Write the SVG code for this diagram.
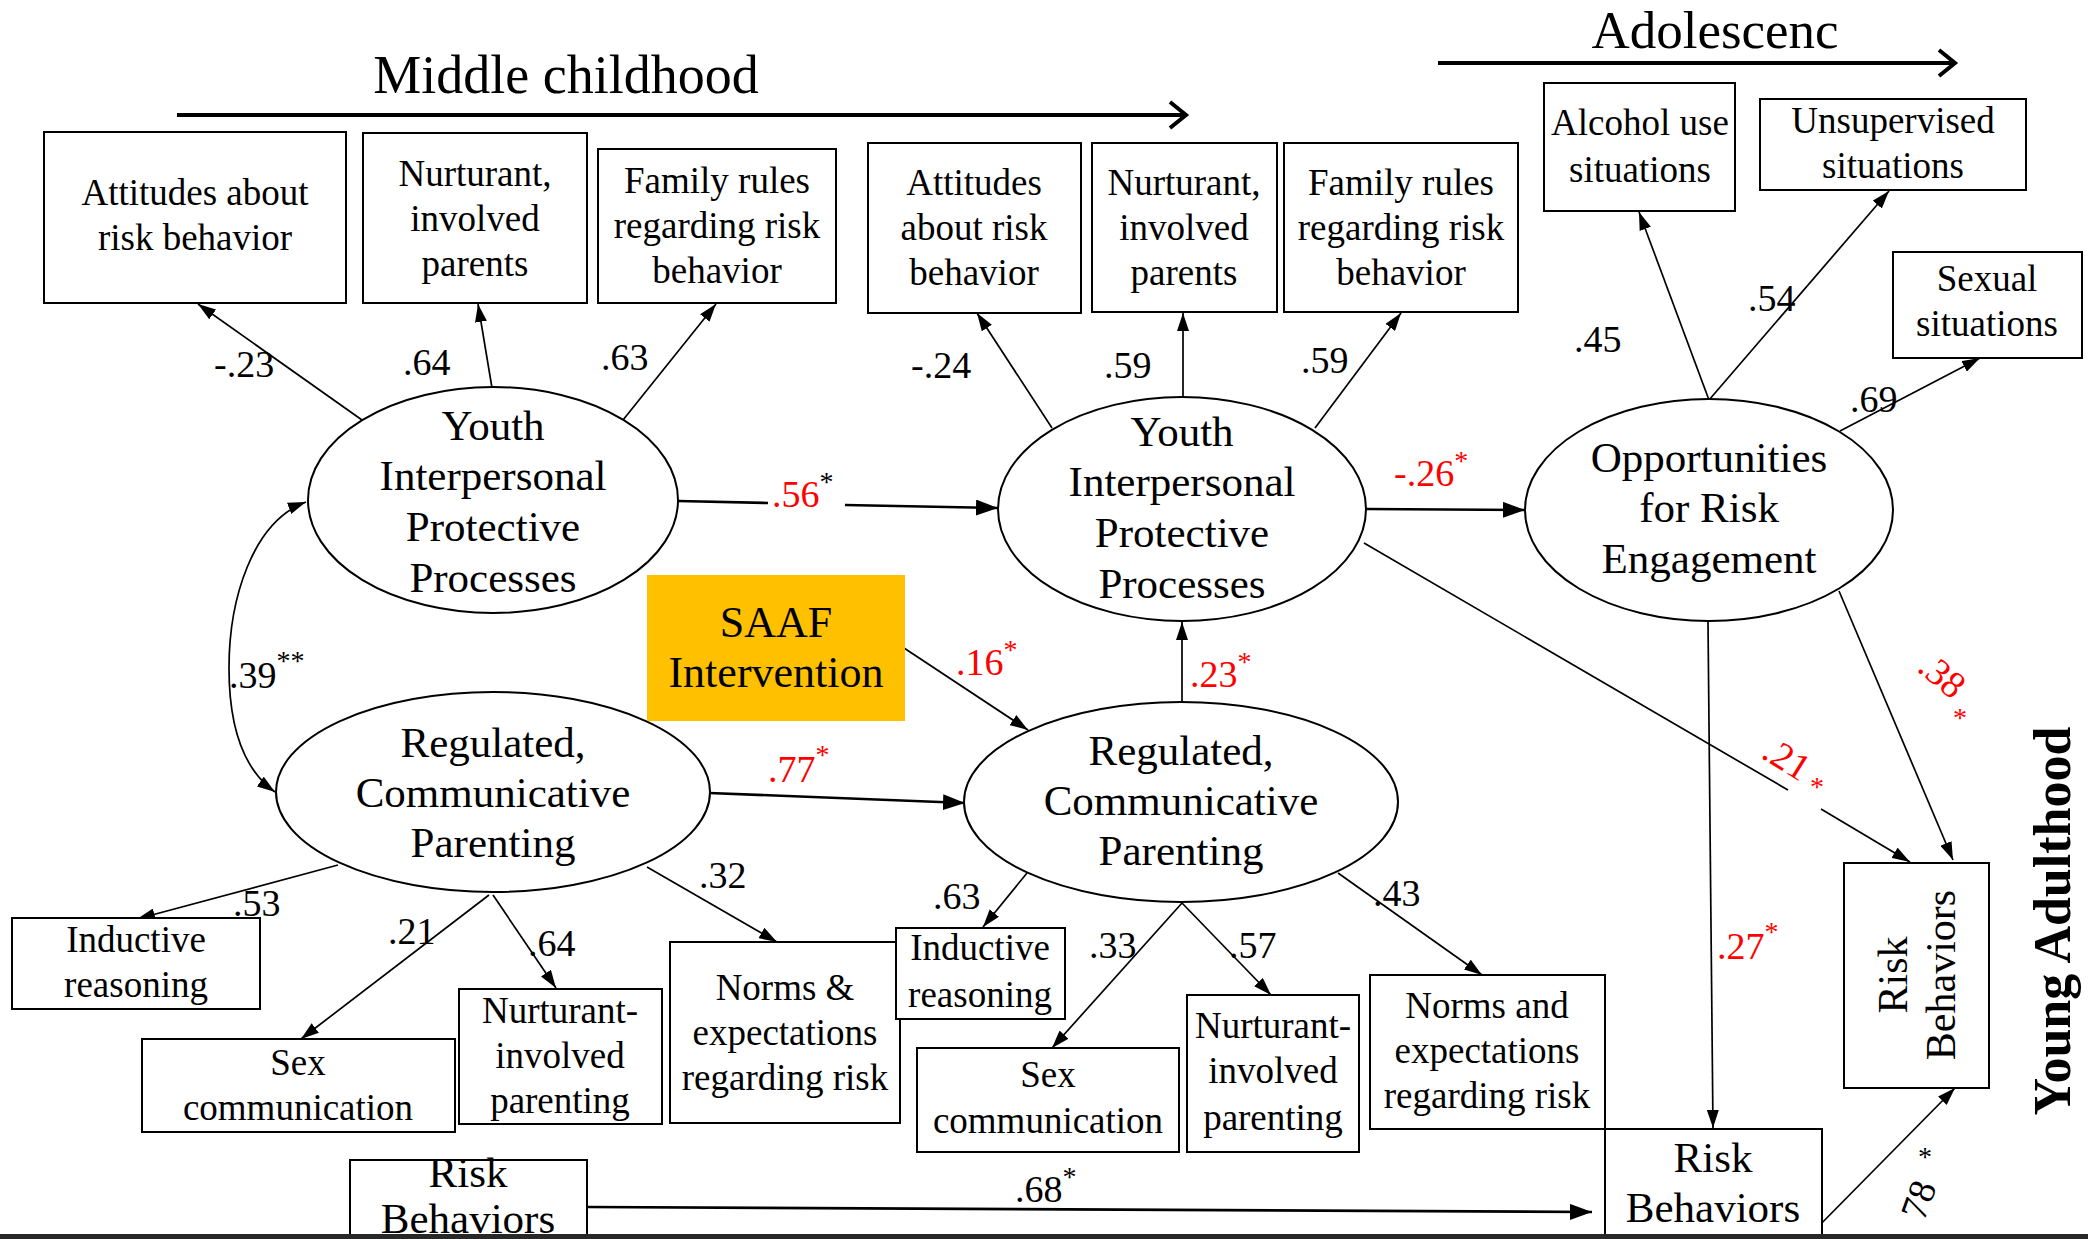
<svg xmlns="http://www.w3.org/2000/svg" width="2088" height="1239" viewBox="0 0 2088 1239">
  <style>
    text { font-family: "Liberation Serif", "Times New Roman", serif; fill: #000; }
    .box { fill: #fff; stroke: #000; stroke-width: 2; }
    .ell { fill: #fff; stroke: #000; stroke-width: 2; }
    .bt { font-size: 37px; text-anchor: middle; }
    .et { font-size: 43px; text-anchor: middle; }
    .rb { font-size: 43px; text-anchor: middle; }
    .lab { font-size: 38px; }
    .red { fill: #ff0000; }
    .sup { font-size: 28px; }
    .ln { stroke: #000; stroke-width: 1.7; fill: none; }
    .lnh { stroke: #000; stroke-width: 2.6; fill: none; }
    .tl { stroke: #000; stroke-width: 4; fill: none; }
  </style>
  <defs>
    <marker id="ah" markerUnits="userSpaceOnUse" markerWidth="18" markerHeight="12" refX="18" refY="6" orient="auto-start-reverse">
      <path d="M0,0 L18,6 L0,12 z" fill="#000"/>
    </marker>
    <marker id="ahL" markerUnits="userSpaceOnUse" markerWidth="22" markerHeight="16" refX="22" refY="8" orient="auto">
      <path d="M0,0 L22,8 L0,16 z" fill="#000"/>
    </marker>
  </defs>

  <rect width="2088" height="1239" fill="#fff"/>

  <!-- developmental period headings -->
  <g id="period-middle-childhood">
    <text x="566" y="93" font-size="54" text-anchor="middle">Middle childhood</text>
    <line class="tl" x1="177" y1="115" x2="1185" y2="115"/>
    <polyline class="tl" points="1170,102 1186,115 1170,128"/>
  </g>
  <g id="period-adolescence">
    <text x="1715" y="48" font-size="53" text-anchor="middle">Adolescenc</text>
    <line class="tl" x1="1438" y1="63" x2="1954" y2="63"/>
    <polyline class="tl" points="1939,50 1955,63 1939,76"/>
  </g>
  <g id="period-young-adulthood">
    <text transform="translate(2070,921) rotate(-90)" font-size="52" font-weight="bold" text-anchor="middle">Young Adulthood</text>
  </g>

  <!-- connectors -->
  <g id="connectors">
    <!-- youth processes (wave 1) indicators -->
    <line class="ln" x1="362" y1="420" x2="198" y2="304" marker-end="url(#ah)"/>
    <line class="ln" x1="492" y1="388" x2="478" y2="304" marker-end="url(#ah)"/>
    <line class="ln" x1="623" y1="420" x2="716" y2="304" marker-end="url(#ah)"/>
    <!-- youth processes (wave 2) indicators -->
    <line class="ln" x1="1052" y1="428" x2="977" y2="313" marker-end="url(#ah)"/>
    <line class="ln" x1="1183" y1="397" x2="1183" y2="313" marker-end="url(#ah)"/>
    <line class="ln" x1="1315" y1="428" x2="1401" y2="313" marker-end="url(#ah)"/>
    <!-- opportunities indicators -->
    <line class="ln" x1="1709" y1="400" x2="1639" y2="212" marker-end="url(#ah)"/>
    <line class="ln" x1="1709" y1="400" x2="1889" y2="191" marker-end="url(#ah)"/>
    <line class="ln" x1="1840" y1="431" x2="1980" y2="358" marker-end="url(#ah)"/>
    <!-- structural paths -->
    <line class="lnh" x1="678" y1="501" x2="768" y2="503"/>
    <line class="lnh" x1="845" y1="505" x2="998" y2="508" marker-end="url(#ahL)"/>
    <line class="lnh" x1="1366" y1="509" x2="1525" y2="510" marker-end="url(#ahL)"/>
    <line class="lnh" x1="709" y1="793" x2="965" y2="803" marker-end="url(#ahL)"/>
    <line class="ln" x1="1182" y1="702" x2="1182" y2="622" marker-end="url(#ah)"/>
    <line class="ln" x1="904" y1="648" x2="1028" y2="730" marker-end="url(#ah)"/>
    <line class="ln" x1="1364" y1="543" x2="1788" y2="790"/>
    <line class="ln" x1="1821" y1="809" x2="1910" y2="862" marker-end="url(#ah)"/>
    <line class="ln" x1="1839" y1="591" x2="1953" y2="860" marker-end="url(#ah)"/>
    <line class="ln" x1="1708" y1="622" x2="1713" y2="1128" marker-end="url(#ah)"/>
    <line class="ln" x1="1809" y1="1236" x2="1955" y2="1088" marker-end="url(#ah)"/>
    <line class="lnh" x1="587" y1="1207" x2="1592" y2="1212" marker-end="url(#ahL)"/>
    <!-- correlation between wave 1 latent factors -->
    <path class="ln" d="M306,502 C252,522 229,600 229,668 C229,730 244,770 275,792" marker-start="url(#ah)" marker-end="url(#ah)"/>
    <!-- parenting (wave 1) indicators -->
    <line class="ln" x1="338" y1="865" x2="137" y2="919" marker-end="url(#ah)"/>
    <line class="ln" x1="489" y1="895" x2="301" y2="1039" marker-end="url(#ah)"/>
    <line class="ln" x1="493" y1="895" x2="556" y2="988" marker-end="url(#ah)"/>
    <line class="ln" x1="647" y1="867" x2="777" y2="942" marker-end="url(#ah)"/>
    <!-- parenting (wave 2) indicators -->
    <line class="ln" x1="1027" y1="873" x2="983" y2="927" marker-end="url(#ah)"/>
    <line class="ln" x1="1182" y1="903" x2="1052" y2="1048" marker-end="url(#ah)"/>
    <line class="ln" x1="1182" y1="903" x2="1271" y2="995" marker-end="url(#ah)"/>
    <line class="ln" x1="1338" y1="873" x2="1482" y2="975" marker-end="url(#ah)"/>
  </g>

  <!-- path coefficients -->
  <g id="coefficients">
    <text class="lab" x="214" y="377">-.23</text>
    <text class="lab" x="403" y="375">.64</text>
    <text class="lab" x="601" y="370">.63</text>
    <text class="lab" x="911" y="378">-.24</text>
    <text class="lab" x="1104" y="378">.59</text>
    <text class="lab" x="1301" y="373">.59</text>
    <text class="lab" x="1574" y="352">.45</text>
    <text class="lab" x="1748" y="311">.54</text>
    <text class="lab" x="1850" y="412">.69</text>
    <text class="lab red" x="772" y="507">.56<tspan class="sup" style="fill:#000" dy="-16">*</tspan></text>
    <text class="lab red" x="1394" y="486">-.26<tspan class="sup" dy="-16">*</tspan></text>
    <text class="lab red" x="956" y="675">.16<tspan class="sup" dy="-16">*</tspan></text>
    <text class="lab red" x="1190" y="687">.23<tspan class="sup" dy="-16">*</tspan></text>
    <text class="lab red" x="768" y="782">.77<tspan class="sup" dy="-18">*</tspan></text>
    <text class="lab" x="229" y="688">.39<tspan class="sup" dy="-18">**</tspan></text>
    <text class="lab" x="233" y="916">.53</text>
    <text class="lab" x="388" y="944">.21</text>
    <text class="lab" x="528" y="956">.64</text>
    <text class="lab" x="699" y="888">.32</text>
    <text class="lab" x="933" y="909">.63</text>
    <text class="lab" x="1089" y="958">.33</text>
    <text class="lab" x="1229" y="958">.57</text>
    <text class="lab" x="1373" y="906">.43</text>
    <text class="lab red" x="1717" y="959">.27<tspan class="sup" dy="-18">*</tspan></text>
    <text class="lab" x="1015" y="1202">.68<tspan class="sup" dy="-16">*</tspan></text>
    <text class="lab red" transform="translate(1760,757) rotate(32)">.21</text>
    <text class="sup red" x="1810" y="796">*</text>
    <text class="lab red" transform="translate(1916,670) rotate(40)">.38</text>
    <text class="sup red" x="1953" y="727">*</text>
    <text class="lab" transform="translate(1924,1222) rotate(-70)">78</text>
    <text class="sup" x="1918" y="1166">*</text>
  </g>

  <!-- wave 1 youth indicators -->
  <g id="w1-attitudes">
    <rect class="box" x="44" y="132" width="302" height="171"/>
    <text class="bt" x="195" y="205">Attitudes about</text>
    <text class="bt" x="195" y="250">risk behavior</text>
  </g>
  <g id="w1-nurturant">
    <rect class="box" x="363" y="133" width="224" height="170"/>
    <text class="bt" x="475" y="186">Nurturant,</text>
    <text class="bt" x="475" y="231">involved</text>
    <text class="bt" x="475" y="276">parents</text>
  </g>
  <g id="w1-family-rules">
    <rect class="box" x="598" y="149" width="238" height="154"/>
    <text class="bt" x="717" y="193">Family rules</text>
    <text class="bt" x="717" y="238">regarding risk</text>
    <text class="bt" x="717" y="283">behavior</text>
  </g>

  <!-- wave 2 youth indicators -->
  <g id="w2-attitudes">
    <rect class="box" x="868" y="143" width="213" height="170"/>
    <text class="bt" x="974" y="195">Attitudes</text>
    <text class="bt" x="974" y="240">about risk</text>
    <text class="bt" x="974" y="285">behavior</text>
  </g>
  <g id="w2-nurturant">
    <rect class="box" x="1092" y="143" width="185" height="169"/>
    <text class="bt" x="1184" y="195">Nurturant,</text>
    <text class="bt" x="1184" y="240">involved</text>
    <text class="bt" x="1184" y="285">parents</text>
  </g>
  <g id="w2-family-rules">
    <rect class="box" x="1284" y="143" width="234" height="169"/>
    <text class="bt" x="1401" y="195">Family rules</text>
    <text class="bt" x="1401" y="240">regarding risk</text>
    <text class="bt" x="1401" y="285">behavior</text>
  </g>

  <!-- opportunity indicators -->
  <g id="alcohol-use">
    <rect class="box" x="1544" y="83" width="191" height="128"/>
    <text class="bt" x="1640" y="135">Alcohol use</text>
    <text class="bt" x="1640" y="182">situations</text>
  </g>
  <g id="unsupervised">
    <rect class="box" x="1760" y="99" width="266" height="91"/>
    <text class="bt" x="1893" y="133">Unsupervised</text>
    <text class="bt" x="1893" y="178">situations</text>
  </g>
  <g id="sexual">
    <rect class="box" x="1893" y="252" width="189" height="106"/>
    <text class="bt" x="1987" y="291" font-size="42">Sexual</text>
    <text class="bt" x="1987" y="336">situations</text>
  </g>

  <!-- latent factors -->
  <g id="youth-w1">
    <ellipse class="ell" cx="493" cy="500" rx="185" ry="113"/>
    <text class="et" x="493" y="440">Youth</text>
    <text class="et" x="493" y="490">Interpersonal</text>
    <text class="et" x="493" y="541">Protective</text>
    <text class="et" x="493" y="592">Processes</text>
  </g>
  <g id="parenting-w1">
    <ellipse class="ell" cx="493" cy="792" rx="217" ry="100"/>
    <text class="et" x="493" y="757">Regulated,</text>
    <text class="et" x="493" y="807">Communicative</text>
    <text class="et" x="493" y="857">Parenting</text>
  </g>
  <g id="youth-w2">
    <ellipse class="ell" cx="1182" cy="509" rx="184" ry="112"/>
    <text class="et" x="1182" y="446">Youth</text>
    <text class="et" x="1182" y="496">Interpersonal</text>
    <text class="et" x="1182" y="547">Protective</text>
    <text class="et" x="1182" y="598">Processes</text>
  </g>
  <g id="opportunities">
    <ellipse class="ell" cx="1709" cy="510" rx="184" ry="111"/>
    <text class="et" x="1709" y="472">Opportunities</text>
    <text class="et" x="1709" y="522">for Risk</text>
    <text class="et" x="1709" y="573">Engagement</text>
  </g>
  <g id="parenting-w2">
    <ellipse class="ell" cx="1181" cy="802" rx="217" ry="100"/>
    <text class="et" x="1181" y="765">Regulated,</text>
    <text class="et" x="1181" y="815">Communicative</text>
    <text class="et" x="1181" y="865">Parenting</text>
  </g>

  <!-- intervention -->
  <g id="saaf">
    <rect x="647" y="575" width="258" height="146" fill="#ffc000"/>
    <text x="776" y="637" font-size="44" text-anchor="middle">SAAF</text>
    <text x="776" y="687" font-size="44" text-anchor="middle">Intervention</text>
  </g>

  <!-- wave 1 parenting indicators -->
  <g id="w1-inductive">
    <rect class="box" x="12" y="918" width="248" height="91"/>
    <text class="bt" x="136" y="952">Inductive</text>
    <text class="bt" x="136" y="997">reasoning</text>
  </g>
  <g id="w1-sex-comm">
    <rect class="box" x="142" y="1039" width="313" height="93"/>
    <text class="bt" x="298" y="1075">Sex</text>
    <text class="bt" x="298" y="1120">communication</text>
  </g>
  <g id="w1-nurturant-parenting">
    <rect class="box" x="459" y="989" width="203" height="135"/>
    <text class="bt" x="560" y="1023">Nurturant-</text>
    <text class="bt" x="560" y="1068">involved</text>
    <text class="bt" x="560" y="1113">parenting</text>
  </g>
  <g id="w1-norms">
    <rect class="box" x="670" y="942" width="230" height="181"/>
    <text class="bt" x="785" y="1000">Norms &amp;</text>
    <text class="bt" x="785" y="1045">expectations</text>
    <text class="bt" x="785" y="1090">regarding risk</text>
  </g>

  <!-- wave 2 parenting indicators -->
  <g id="w2-inductive">
    <rect class="box" x="896" y="928" width="169" height="91"/>
    <text class="bt" x="980" y="960">Inductive</text>
    <text class="bt" x="980" y="1007">reasoning</text>
  </g>
  <g id="w2-sex-comm">
    <rect class="box" x="917" y="1048" width="262" height="104"/>
    <text class="bt" x="1048" y="1087">Sex</text>
    <text class="bt" x="1048" y="1133">communication</text>
  </g>
  <g id="w2-nurturant-parenting">
    <rect class="box" x="1187" y="995" width="172" height="157"/>
    <text class="bt" x="1273" y="1038">Nurturant-</text>
    <text class="bt" x="1273" y="1083">involved</text>
    <text class="bt" x="1273" y="1130">parenting</text>
  </g>
  <g id="w2-norms">
    <rect class="box" x="1370" y="975" width="235" height="154"/>
    <text class="bt" x="1487" y="1018">Norms and</text>
    <text class="bt" x="1487" y="1063">expectations</text>
    <text class="bt" x="1487" y="1108">regarding risk</text>
  </g>

  <!-- risk behavior outcomes -->
  <g id="risk-w1">
    <rect class="box" x="350" y="1160" width="237" height="90"/>
    <text class="rb" x="468" y="1187">Risk</text>
    <text class="rb" x="468" y="1233">Behaviors</text>
  </g>
  <g id="risk-adolescence">
    <rect class="box" x="1605" y="1129" width="217" height="121"/>
    <text class="rb" x="1713" y="1172">Risk</text>
    <text class="rb" x="1713" y="1222">Behaviors</text>
  </g>
  <g id="risk-young-adult">
    <rect class="box" x="1844" y="863" width="145" height="225"/>
    <text transform="translate(1907,975) rotate(-90)" font-size="42" text-anchor="middle">Risk</text>
    <text transform="translate(1955,975) rotate(-90)" font-size="42" text-anchor="middle">Behaviors</text>
  </g>

  <!-- page edge -->
  <rect x="0" y="1234" width="2088" height="5" fill="#282828"/>
</svg>
